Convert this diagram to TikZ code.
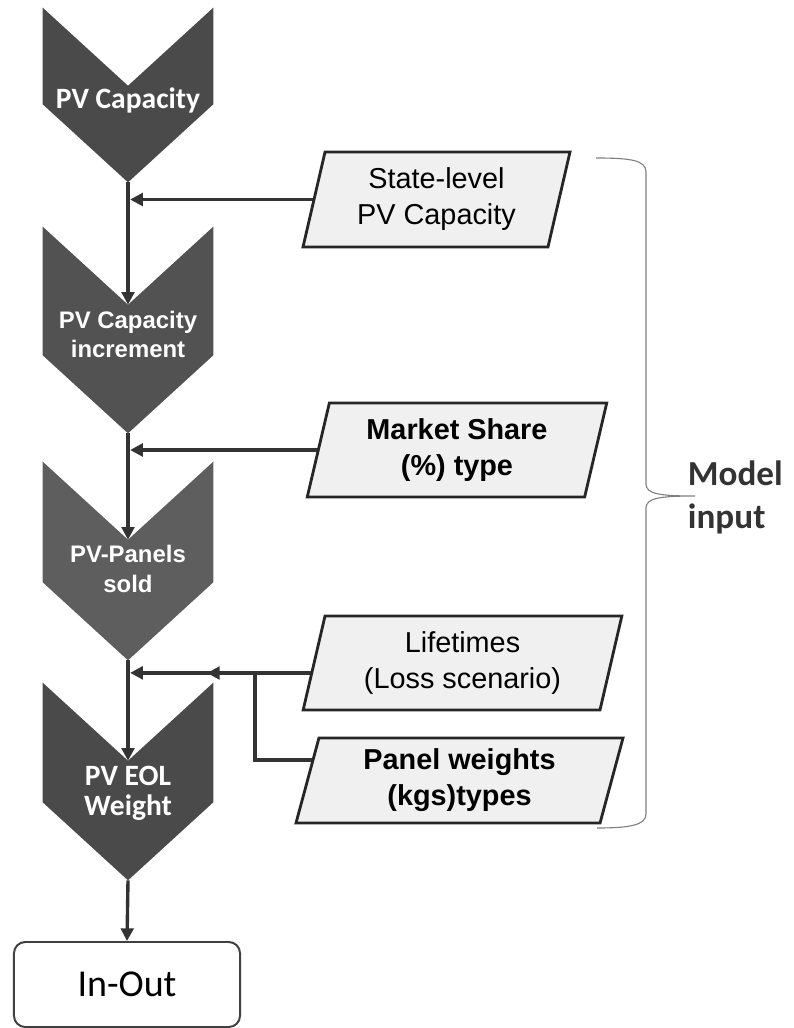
\documentclass[tikz,border=0pt]{standalone}
\usepackage{fontspec}
\setmainfont{Liberation Sans}
\newfontfamily\carlito{Carlito}
\usetikzlibrary{positioning, shapes.geometric, arrows.meta, backgrounds}
\newcommand{\chevtext}[2]{\raisebox{#1}[0pt][0pt]{\begin{tabular}{@{}c@{}}#2\end{tabular}}}
\newcommand{\chevdepth}{55.5pt}

\begin{document}
\begin{tikzpicture}[x=0.025cm, y=-0.025cm,
    chev/.style={minimum width=4.25cm, inner sep=0pt, text=white},
    chevA/.style={chev, font=\carlito\bfseries\fontsize{21}{21.3}\selectfont},
    chevB/.style={chev, font=\bfseries\fontsize{17}{21}\selectfont},
    inbox/.style={trapezium, trapezium left angle=76, trapezium right angle=104,
      trapezium stretches=true, draw=black!85, line width=2pt, fill=black!6,
      align=center, inner sep=0pt, font=\fontsize{20.5}{25.6}\selectfont},
    arr/.style={-{Triangle[length=9pt,width=9pt]}, line width=2.4pt, draw=black!80},
  ]
  \useasboundingbox (0,0) rectangle (794,1028);

  % Model chain (node = body between notch and side ends)
  \node[chevA, minimum height=0.45cm] (cap) at (128,95) {\chevtext{-10.2pt}{PV Capacity}};
  \node[chevB, minimum height=1.25cm] (inc) at (128,330) {\chevtext{-9.2pt}{PV Capacity\\increment}};
  \node[chevB, minimum height=1.05cm] (sold) at (128,561) {\chevtext{-12pt}{PV-Panels\\sold}};
  \node[chevA, minimum height=1.025cm] (eol) at (128,781.5) {\chevtext{-14.2pt}{PV EOL\\Weight}};
  \node[draw=black!75, line width=1.4pt, rounded corners=8pt, fill=white,
    minimum width=5.65cm, minimum height=2.125cm,
    font=\carlito\fontsize{27}{27}\selectfont] (io) at (127,984.5) {In-Out};

  % Inputs
  \node[inbox, minimum width=6.675cm, minimum height=2.375cm] (st) at (436.5,199.5) {State-level\\PV Capacity};
  \node[inbox, minimum width=7.5cm, minimum height=2.35cm, font=\bfseries\fontsize{20.5}{25.6}\selectfont] (ms) at (457,450) {Market Share\\(\%) type};
  \node[inbox, minimum width=7.975cm, minimum height=2.35cm] (lt) at (462.5,663) {Lifetimes\\(Loss scenario)};
  \node[inbox, minimum width=8.175cm, minimum height=2.125cm, font=\bfseries\fontsize{20.5}{25.6}\selectfont] (pw) at (459.5,780.5) {Panel weights\\(kgs)types};

  \coordinate (ltout) at ([yshift=-7pt]lt.center);
  \coordinate (pwout) at ([yshift=14.5pt]pw.center);
  \coordinate (jn) at (255,673);
  \coordinate (mg) at (207,673);

  \begin{scope}[on background layer]
    % Chevron outlines
    \foreach \nm/\shade in {cap/71, inc/68, sold/63, eol/71} {
      \fill[black!\shade] ([yshift=\chevdepth]\nm.north west) -- (\nm.north)
        -- ([yshift=\chevdepth]\nm.north east) -- (\nm.south east)
        -- ([yshift=-\chevdepth]\nm.south) -- (\nm.south west) -- cycle;
      \coordinate (\nm-tip) at ([yshift=-\chevdepth]\nm.south);
    }
    % Connectors
    \draw[arr] (cap-tip) -- (inc.north);
    \draw[arr] (inc-tip) -- (sold.north);
    \draw[arr] (sold-tip) -- (eol.north);
    \draw[arr] (eol-tip) -- (io.north);
    \draw[arr, shorten >=1.5pt] (st.center) -- (st.center -| cap.south);
    \draw[arr, shorten >=1.5pt] (ms.center) -- (ms.center -| cap.south);
    \draw[arr, shorten >=1.5pt] (ltout) -- (ltout -| cap.south);
    \draw[arr] (pwout) -| (jn) -- (mg);
  \end{scope}

  % Brace
  \draw[black!50, line width=0.8pt] (596,158) .. controls (630,158) and (646,160) .. (646,172)
    -- (646,484) .. controls (646,494) and (660,496) .. (695,496)
    .. controls (660,496) and (646,498) .. (646,508)
    -- (646,814) .. controls (646,825) and (630,828) .. (597,828);
  \node[anchor=west, align=left, text=black!80,
    font=\carlito\bfseries\fontsize{25}{30.6}\selectfont] (mi) at (683,497) {Model\\input};
\end{tikzpicture}
\end{document}
